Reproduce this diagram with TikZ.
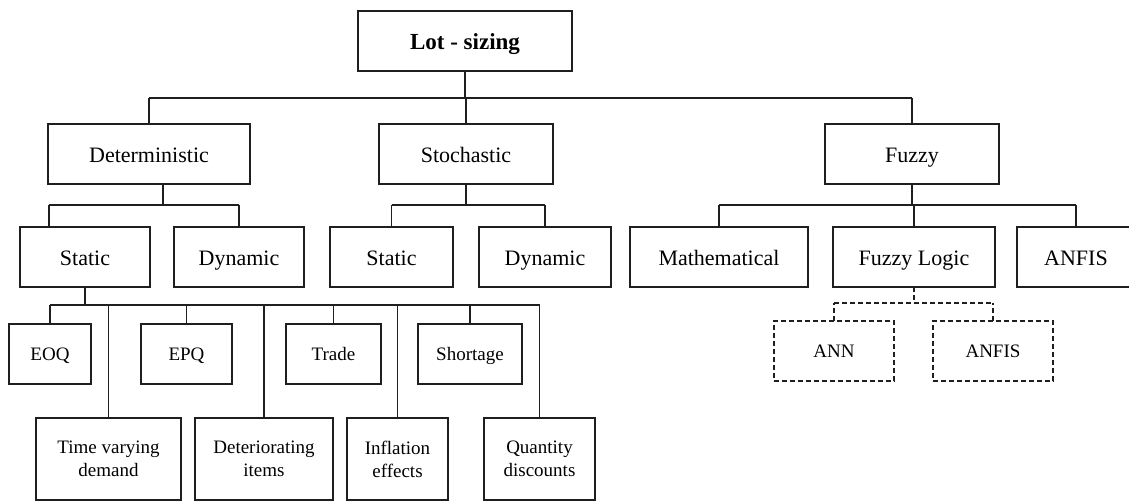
\documentclass[tikz,border=0pt]{standalone}
\usepackage{fontspec}
\setmainfont{Liberation Serif}
\usetikzlibrary{calc}
\begin{document}
\begin{tikzpicture}[x=1pt,y=-1pt,
  frame/.style={draw=black!88,line width=1.9pt,inner sep=0pt,outer sep=0pt,
    minimum height=60pt,align=center},
  box/.style={frame,font=\fontsize{22}{26}\selectfont,text height=16pt,text depth=0pt},
  leaf/.style={frame,font=\fontsize{19}{23}\selectfont,text height=13pt,text depth=0pt},
  tall/.style={frame,font=\fontsize{19}{23}\selectfont,minimum height=82pt},
  dbox/.style={leaf,dash pattern=on 5pt off 3pt},
  link/.style={draw=black!88,line width=1.5pt},
  heavy/.style={draw=black!88,line width=2.6pt},
  dlink/.style={link,dash pattern=on 5pt off 3pt}]
\useasboundingbox (0,0) rectangle (1129,501);

% root and first level
\node[box,minimum width=214pt,font=\fontsize{23}{27}\selectfont\bfseries] (lot) at (465,41) {Lot - sizing};
\node[box,minimum width=202pt] (det) at (149,154) {Deterministic};
\node[box,minimum width=174pt] (sto) at (466,154) {Stochastic};
\node[box,minimum width=174pt] (fuz) at (912,154) {Fuzzy};

% second level
\node[box,minimum width=130pt] (dstat) at (85,257) {Static};
\node[box,minimum width=130pt] (ddyn) at (239,257) {Dynamic};
\node[box,minimum width=123pt] (sstat) at (391.5,257) {Static};
\node[box,minimum width=132pt] (sdyn) at (545,257) {Dynamic};
\node[box,minimum width=178pt] (math) at (719,257) {Mathematical};
\node[box,minimum width=162pt] (flog) at (914,257) {Fuzzy Logic};
\node[box,minimum width=118pt] (anfis) at (1076,257) {ANFIS};

% static models
\node[leaf,minimum width=82pt] (eoq) at (50,354) {EOQ};
\node[leaf,minimum width=91pt] (epq) at (186.5,354) {EPQ};
\node[leaf,minimum width=95pt] (trade) at (333.5,354) {Trade};
\node[leaf,minimum width=104pt] (short) at (470,354) {Shortage};
\node[tall,minimum width=145pt] (tvd) at (108.5,459) {Time varying\\demand};
\node[tall,minimum width=138pt] (ditems) at (264,459) {Deteriorating\\items};
\node[tall,minimum width=101pt] (infl) at (397.5,459) {Inflation\\effects};
\node[tall,minimum width=111pt] (qty) at (539.5,459) {Quantity\\discounts};

% fuzzy logic hybrids
\node[dbox,minimum width=120pt] (ann) at (834,351) {ANN};
\node[dbox,minimum width=120pt] (anfisb) at (993,351) {ANFIS};

% bus levels
\coordinate (b1) at (0,98);
\coordinate (b2) at (0,205);
\coordinate (b3) at (0,305);
\coordinate (b4) at (0,303);

% root bus
\draw[heavy] (lot.south) -- (lot.south |- b1);
\draw[link] (det.north |- b1) -- (fuz.north |- b1);
\draw[link] (det.north) -- (det.north |- b1);
\draw[link] (sto.north) -- (sto.north |- b1);
\draw[link] (fuz.north) -- (fuz.north |- b1);

% deterministic
\draw[link] ([xshift=14pt]det.south) -- ([xshift=14pt]det.south |- b2);
\draw[link] ([xshift=-36pt]dstat.north |- b2) -- (ddyn.north |- b2);
\draw[link] ([xshift=-36pt]dstat.north) -- ([xshift=-36pt]dstat.north |- b2);
\draw[link] (ddyn.north) -- (ddyn.north |- b2);

% stochastic
\draw[link] (sto.south) -- (sto.south |- b2);
\draw[link] (sstat.north |- b2) -- (sdyn.north |- b2);
\draw[link] (sstat.north) -- (sstat.north |- b2);
\draw[link] (sdyn.north) -- (sdyn.north |- b2);

% fuzzy
\draw[heavy] (fuz.south) -- (fuz.south |- b2);
\draw[link] (math.north |- b2) -- (anfis.north |- b2);
\draw[link] (math.north) -- (math.north |- b2);
\draw[link] (flog.north) -- (flog.north |- b2);
\draw[link] (anfis.north) -- (anfis.north |- b2);

% static models bus
\draw[heavy] (dstat.south) -- (dstat.south |- b3);
\draw[link] (eoq.north |- b3) -- (dstat.south |- b3);
\draw[heavy] (dstat.south |- b3) -- (qty.north |- b3);
\foreach \n in {eoq,epq,trade,short,tvd,ditems,infl,qty}
  \draw[link] (\n.north) -- (\n.north |- b3);

% fuzzy logic bus (dashed)
\draw[dlink] (flog.south) -- (flog.south |- b4);
\draw[dlink] (ann.north |- b4) -- (anfisb.north |- b4);
\draw[dlink] (ann.north) -- (ann.north |- b4);
\draw[dlink] (anfisb.north) -- (anfisb.north |- b4);
\end{tikzpicture}
\end{document}
